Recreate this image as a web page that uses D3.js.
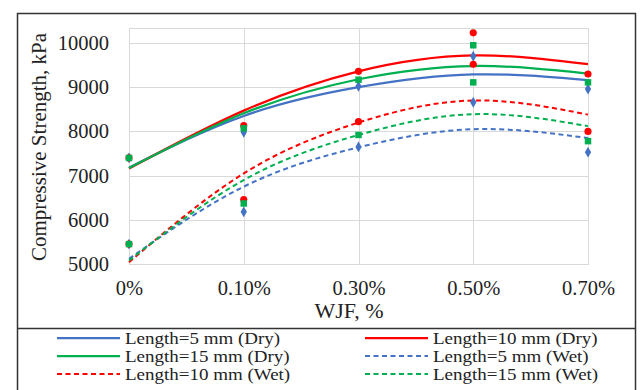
<!DOCTYPE html>
<html><head><meta charset="utf-8">
<script src="https://cdn.jsdelivr.net/npm/d3@7"></script>
<style>body{margin:0;background:#fff}svg{display:block}text{font-family:"Liberation Serif","Times New Roman",serif;fill:#222}</style>
</head><body><svg id="c" width="640" height="390"></svg>
<script>
const categories = ["0%","0.10%","0.30%","0.50%","0.70%"];
const yTicks = [5000,6000,7000,8000,9000,10000];
// trend curves (values read at each category)
const dry5Trend  = [7180, 8350, 9000, 9290, 9160];
const dry10Trend = [7160, 8470, 9360, 9720, 9520];
const dry15Trend = [7170, 8410, 9180, 9480, 9310];
const wet5Trend  = [5120, 6750, 7640, 8050, 7850];
const wet10Trend = [5040, 7050, 8200, 8700, 8380];
const wet15Trend = [5080, 6900, 7920, 8390, 8120];
// measured points
const dry5Pts  = [7400, 7980, 9020, 9700, 8960];
const dry10Pts = [7400, 8130, 9360, 10230, 9300];
const dry15Pts = [7400, 8070, 9170, 9950, 9110];
const wet5Pts  = [5450, 6180, 7650, 8660, 7530];
const wet10Pts = [5450, 6460, 8220, 9520, 8000];
const wet15Pts = [5450, 6370, 7920, 9110, 7780];
const seriesNames = ["Length=5 mm (Dry)","Length=10 mm (Dry)","Length=15 mm (Dry)","Length=5 mm (Wet)","Length=10 mm (Wet)","Length=15 mm (Wet)"];

const BLUE="#4472C4", RED="#FF0000", GREEN="#00B050";
const series = [
  {name:seriesNames[0], trend:dry5Trend,  pts:dry5Pts,  color:BLUE,  dash:null, mk:"diamond"},
  {name:seriesNames[1], trend:dry10Trend, pts:dry10Pts, color:RED,   dash:null, mk:"circle"},
  {name:seriesNames[2], trend:dry15Trend, pts:dry15Pts, color:GREEN, dash:null, mk:"square"},
  {name:seriesNames[3], trend:wet5Trend,  pts:wet5Pts,  color:BLUE,  dash:"5,3.5", mk:"diamond"},
  {name:seriesNames[4], trend:wet10Trend, pts:wet10Pts, color:RED,   dash:"5,3.5", mk:"circle"},
  {name:seriesNames[5], trend:wet15Trend, pts:wet15Pts, color:GREEN, dash:"5,3.5", mk:"square"}
];

const svg = d3.select("#c");
const L=129, R=588, T=28, B=264;
const x = d3.scalePoint().domain(categories).range([L,R]).padding(0);
const y = d3.scaleLinear().domain([5000,10340]).range([B,T]);

// outer frame
svg.append("rect").attr("x",17.5).attr("y",13.5).attr("width",618).attr("height",400)
  .attr("fill","none").attr("stroke","#333").attr("stroke-width",1.5);
svg.append("line").attr("x1",17).attr("x2",636).attr("y1",328.5).attr("y2",328.5)
  .attr("stroke","#333").attr("stroke-width",1.5);

// gridlines
const g = svg.append("g");
g.selectAll(".hg").data(yTicks).join("line")
  .attr("x1",L).attr("x2",R).attr("y1",d=>Math.round(y(d))+0.5).attr("y2",d=>Math.round(y(d))+0.5)
  .attr("stroke","#D9D9D9").attr("stroke-width",1);
g.selectAll(".vg").data(categories).join("line")
  .attr("y1",T).attr("y2",B).attr("x1",d=>Math.round(x(d))+0.5).attr("x2",d=>Math.round(x(d))+0.5)
  .attr("stroke","#D9D9D9").attr("stroke-width",1);
g.append("rect").attr("x",L+0.5).attr("y",T+0.5).attr("width",R-L).attr("height",B-T)
  .attr("fill","none").attr("stroke","#D9D9D9");

// axes labels via d3 axes
const yAxis = svg.append("g").attr("transform",`translate(${L},0)`)
  .call(d3.axisLeft(y).tickValues(yTicks).tickSize(0).tickPadding(20).tickFormat(d3.format("d")));
yAxis.select(".domain").remove();
yAxis.selectAll("text").attr("font-size",20.5).attr("font-family","Liberation Serif");
const xAxis = svg.append("g").attr("transform",`translate(0,${B})`)
  .call(d3.axisBottom(x).tickSize(0).tickPadding(16));
xAxis.select(".domain").remove();
xAxis.selectAll("text").attr("font-size",20.5).attr("font-family","Liberation Serif");

svg.append("text").attr("x",349).attr("y",318).attr("text-anchor","middle").attr("font-size",22).text("WJF, %");
svg.append("text").attr("transform","translate(46,147) rotate(-90)").attr("text-anchor","middle").attr("font-size",21).text("Compressive Strength, kPa");

// trend curves
const line = d3.line().x((d,i)=>x(categories[i])).y(d=>y(d)).curve(d3.curveNatural);
const order = [3,4,5,0,1,2];
order.forEach(i=>{
  const s = series[i];
  svg.append("path").attr("d",line(s.trend)).attr("fill","none")
    .attr("stroke",s.color).attr("stroke-width",s.dash?2:2.25)
    .attr("stroke-dasharray",s.dash);
});

// markers
const sym = {diamond:d3.symbolDiamond, circle:d3.symbolCircle, square:d3.symbolSquare};
const size = {diamond:34, circle:40, square:42};
[0,3,1,4,2,5].forEach(i=>{
  const s = series[i];
  svg.append("g").selectAll("path").data(s.pts).join("path")
    .attr("transform",(d,j)=>`translate(${x(categories[j])},${y(d)})`)
    .attr("d",d3.symbol().type(sym[s.mk]).size(size[s.mk]))
    .attr("fill",s.color);
});

// legend
const legX=[57,365], legY=[338,356,374];
series.forEach((s,i)=>{
  const cx = legX[i%2], cy = legY[Math.floor(i/2)];
  svg.append("line").attr("x1",cx).attr("x2",cx+63).attr("y1",cy).attr("y2",cy)
    .attr("stroke",s.color).attr("stroke-width",s.dash?2:2.25).attr("stroke-dasharray",s.dash);
  const t = svg.append("text").attr("x",cx+68).attr("y",cy+5.5).attr("font-size",16.5).text(s.name);
  const w = t.node().getComputedTextLength();
  t.attr("textLength", w*1.15).attr("lengthAdjust","spacingAndGlyphs");
});
</script></body></html>
